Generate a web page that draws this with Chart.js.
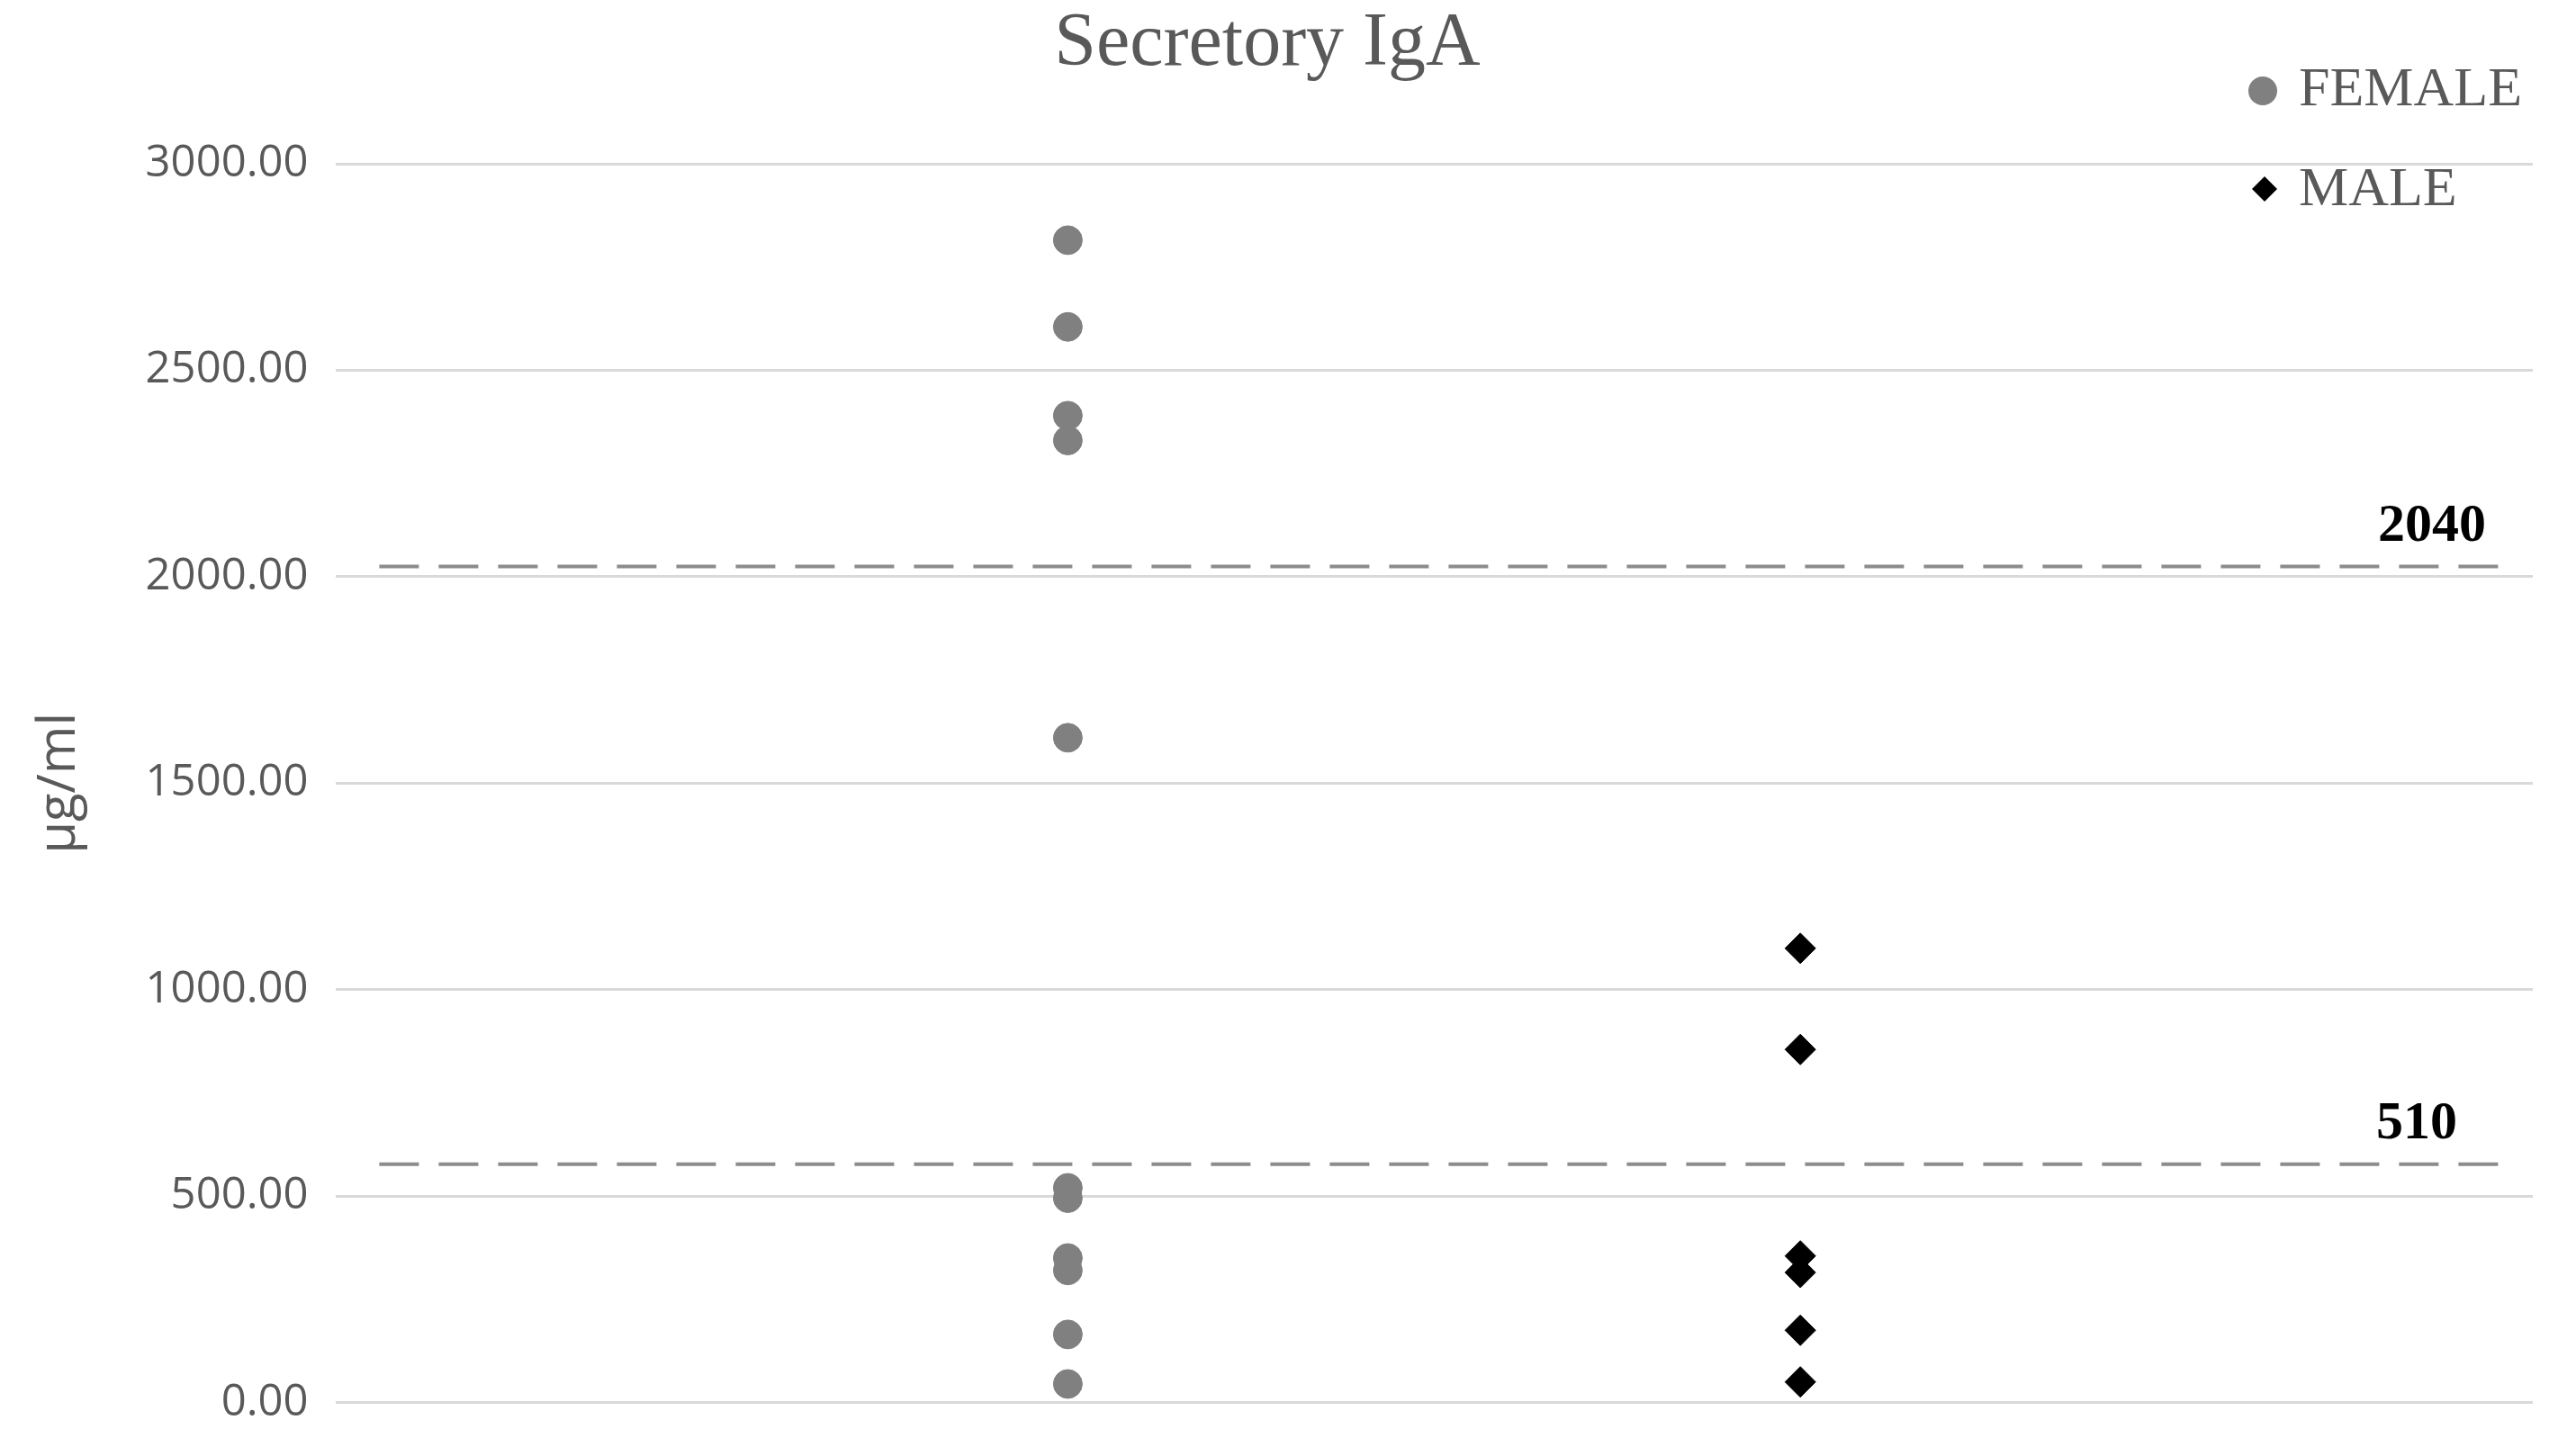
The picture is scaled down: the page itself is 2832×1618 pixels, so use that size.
<!DOCTYPE html>
<html>
<head>
<meta charset="utf-8">
<script src="https://cdn.jsdelivr.net/npm/chart.js@4.4.0/dist/chart.umd.min.js"></script>
<style>
  html, body { margin: 0; padding: 0; background: #fff; }
  #wrap { width: 2832px; height: 1618px; }
</style>
</head>
<body>
<div id="wrap"><canvas id="grafico"></canvas></div>
<script>
// valores (µg/ml)
const feminino = [2815, 2605, 2390, 2330, 1610, 520, 495, 350, 320, 165, 45];
const masculino = [1100, 855, 355, 315, 175, 50];
const grupoX = [1, 2];
const limites = [2025, 577];
const rotulosLimite = ["2040", "510"];
const ticksY = [0, 500, 1000, 1500, 2000, 2500, 3000];

// linhas tracejadas de referência + rótulos e legenda desenhados à mão
const extras = {
  id: "extras",
  afterDraw(chart) {
    const ctx = chart.ctx;
    const y = chart.scales.y;
    ctx.save();
    ctx.fillStyle = "#595959";
    ctx.font = "84px 'Liberation Serif', serif";
    ctx.textAlign = "center";
    ctx.textBaseline = "middle";
    ctx.fillText("Secretory IgA", 1408, 50);

    ctx.fillStyle = "#000";
    ctx.font = "bold 60px 'Liberation Serif', serif";
    ctx.textAlign = "right";
    ctx.textBaseline = "bottom";
    rotulosLimite.forEach((txt, i) => {
      const xr = i === 0 ? 2762 : 2730;
      ctx.fillText(txt, xr, y.getPixelForValue(limites[i]) - 14);
    });

    // legenda
    ctx.font = "62px 'Liberation Serif', serif";
    ctx.textAlign = "left";
    ctx.textBaseline = "middle";
    ctx.fillStyle = "#808080";
    ctx.beginPath();
    ctx.arc(2514, 101, 16, 0, Math.PI * 2);
    ctx.fill();
    ctx.fillStyle = "#595959";
    ctx.fillText("FEMALE", 2554, 101);
    ctx.fillStyle = "#000";
    ctx.beginPath();
    ctx.moveTo(2516, 196); ctx.lineTo(2530, 210); ctx.lineTo(2516, 224); ctx.lineTo(2502, 210);
    ctx.closePath(); ctx.fill();
    ctx.fillStyle = "#595959";
    ctx.fillText("MALE", 2554, 212);
    ctx.restore();
  }
};

const linhas = limites.map(v => ({
  type: "line",
  data: [{ x: 0.06, y: v }, { x: 2.97, y: v }],
  borderColor: "#8c8c8c",
  borderWidth: 4,
  borderDash: [44, 22],
  pointRadius: 0,
  order: 3
}));

new Chart(document.getElementById("grafico"), {
  type: "scatter",
  data: {
    datasets: [
      {
        label: "FEMALE",
        data: feminino.map(v => ({ x: grupoX[0], y: v })),
        backgroundColor: "#808080",
        borderColor: "#808080",
        pointStyle: "circle",
        pointRadius: 16,
        order: 1
      },
      {
        label: "MALE",
        data: masculino.map(v => ({ x: grupoX[1], y: v })),
        backgroundColor: "#000",
        borderColor: "#000",
        pointStyle: "rectRot",
        pointRadius: 17,
        order: 0
      },
      ...linhas
    ]
  },
  options: {
    responsive: true,
    maintainAspectRatio: false,
    animation: false,
    layout: { padding: { top: 182, right: 18, bottom: 8, left: 28 } },
    plugins: { legend: { display: false }, tooltip: { enabled: false } },
    scales: {
      x: { type: "linear", min: 0, max: 3, display: false },
      y: {
        min: 0, max: 3000,
        afterBuildTicks: s => { s.ticks = ticksY.map(v => ({ value: v })); },
        grid: { color: "#d9d9d9", lineWidth: 3, drawTicks: false },
        border: { display: false },
        ticks: {
          color: "#595959",
          padding: 30,
          font: { size: 49, family: "'Open Sans', sans-serif" },
          callback: v => Number(v).toFixed(2)
        },
        title: {
          display: true,
          text: "µg/ml",
          color: "#595959",
          font: { size: 58, family: "'Open Sans', sans-serif" },
          padding: { bottom: 30 }
        }
      }
    }
  },
  plugins: [extras]
});
</script>
</body>
</html>
